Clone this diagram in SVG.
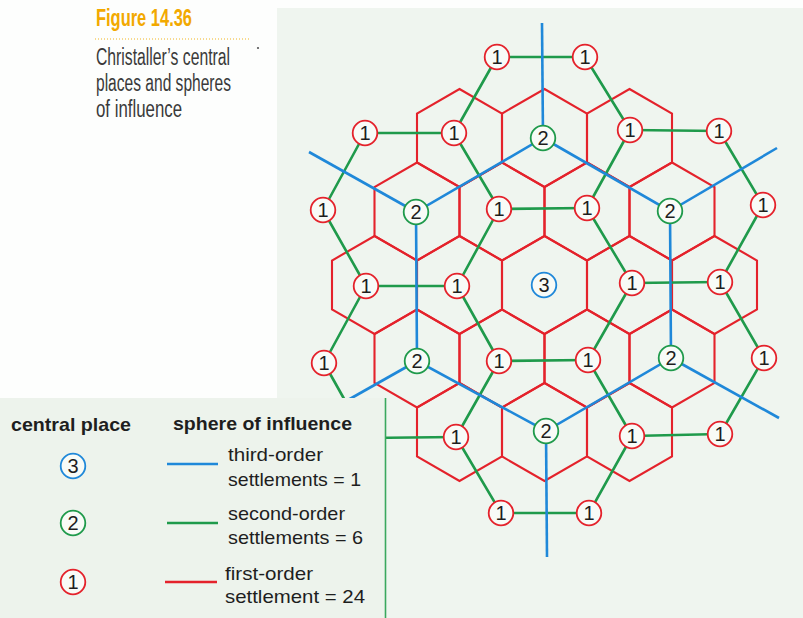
<svg xmlns="http://www.w3.org/2000/svg" xmlns:xlink="http://www.w3.org/1999/xlink" width="803" height="618" viewBox="0 0 803 618">
<style>
  .hex{fill:none;stroke:#e4222b;stroke-width:2.1;stroke-linejoin:miter}
  .g{stroke:#1f9a4b;stroke-width:2.6;fill:none;stroke-linecap:round}
  .b{stroke:#1f88d9;stroke-width:2.6;fill:none;stroke-linecap:butt;stroke-linejoin:miter}
  .c1{fill:#f8fbf7;stroke:#e4222b;stroke-width:1.8}
  .c2{fill:#f8fbf7;stroke:#1f9a4b;stroke-width:1.8}
  .c3{fill:#f8fbf7;stroke:#1f88d9;stroke-width:1.8}
  .n{font-family:"Liberation Sans","Open Sans",sans-serif;font-size:20px;fill:#1e1e1e;text-anchor:middle}
  .ttl{font-family:"Liberation Sans Narrow","Liberation Sans",sans-serif;font-size:23px;font-weight:bold;fill:#f2a900}
  .cap{font-family:"Liberation Sans Narrow","Liberation Sans",sans-serif;font-size:23px;fill:#3a3a3a}
  .lh{font-family:"Liberation Sans","Open Sans",sans-serif;font-size:19px;font-weight:bold;fill:#1e1e1e}
  .lt{font-family:"Liberation Sans","Open Sans",sans-serif;font-size:19px;fill:#1e1e1e}
</style>
<defs>
  <polygon id="hx" class="hex" points="0,-49 42.5,-24.5 42.5,24.5 0,49 -42.5,24.5 -42.5,-24.5"/>
</defs>
<rect x="0" y="0" width="803" height="618" fill="#fdfefd"/>
<rect x="277" y="8" width="526" height="610" fill="#eff5ef"/>

<g id="title">
  <text class="ttl" x="96" y="26" textLength="96" lengthAdjust="spacingAndGlyphs">Figure 14.36</text>
  <line x1="95" y1="39" x2="250" y2="39" stroke="#f0b520" stroke-width="1" stroke-dasharray="1 2"/>
  <text class="cap" x="96" y="65" textLength="134" lengthAdjust="spacingAndGlyphs">Christaller’s central</text>
  <text class="cap" x="96" y="91" textLength="135" lengthAdjust="spacingAndGlyphs">places and spheres</text>
  <text class="cap" x="96" y="117" textLength="86" lengthAdjust="spacingAndGlyphs">of influence</text>
  <circle cx="258" cy="48" r="1.1" fill="#555"/>
</g>

<g id="first-order-spheres">
  <use xlink:href="#hx" x="459.5" y="138"/>
  <use xlink:href="#hx" x="544.5" y="138"/>
  <use xlink:href="#hx" x="629.5" y="138"/>
  <use xlink:href="#hx" x="417" y="211.5"/>
  <use xlink:href="#hx" x="502" y="211.5"/>
  <use xlink:href="#hx" x="587" y="211.5"/>
  <use xlink:href="#hx" x="672" y="211.5"/>
  <use xlink:href="#hx" x="374.5" y="285"/>
  <use xlink:href="#hx" x="459.5" y="285"/>
  <use xlink:href="#hx" x="544.5" y="285"/>
  <use xlink:href="#hx" x="629.5" y="285"/>
  <use xlink:href="#hx" x="714.5" y="285"/>
  <use xlink:href="#hx" x="417" y="358.5"/>
  <use xlink:href="#hx" x="502" y="358.5"/>
  <use xlink:href="#hx" x="587" y="358.5"/>
  <use xlink:href="#hx" x="672" y="358.5"/>
  <use xlink:href="#hx" x="459.5" y="432"/>
  <use xlink:href="#hx" x="544.5" y="432"/>
  <use xlink:href="#hx" x="629.5" y="432"/>
</g>

<g id="connectors">
  <g id="second-order-spheres" class="g">
    <line x1="497" y1="57" x2="585" y2="57"/>
    <line x1="497" y1="57" x2="454" y2="133"/>
    <line x1="585" y1="57" x2="630" y2="130"/>
    <line x1="630" y1="130" x2="587" y2="208"/>
    <line x1="499" y1="209" x2="587" y2="208"/>
    <line x1="454" y1="133" x2="499" y2="209"/>
    <line x1="365" y1="133" x2="454" y2="133"/>
    <line x1="499" y1="209" x2="457" y2="286"/>
    <line x1="366" y1="286" x2="457" y2="286"/>
    <line x1="323" y1="210" x2="366" y2="286"/>
    <line x1="365" y1="133" x2="323" y2="210"/>
    <line x1="630" y1="130" x2="719" y2="131"/>
    <line x1="719" y1="131" x2="763" y2="205"/>
    <line x1="763" y1="205" x2="720" y2="282"/>
    <line x1="632" y1="283" x2="720" y2="282"/>
    <line x1="587" y1="208" x2="632" y2="283"/>
    <line x1="457" y1="286" x2="499" y2="361"/>
    <line x1="499" y1="361" x2="456" y2="437"/>
    <line x1="456" y1="437" x2="366" y2="438"/>
    <line x1="366" y1="438" x2="324" y2="363"/>
    <line x1="366" y1="286" x2="324" y2="363"/>
    <line x1="720" y1="282" x2="764" y2="358"/>
    <line x1="764" y1="358" x2="720" y2="434"/>
    <line x1="632" y1="436" x2="720" y2="434"/>
    <line x1="588" y1="360" x2="632" y2="436"/>
    <line x1="632" y1="283" x2="588" y2="360"/>
    <line x1="499" y1="361" x2="588" y2="360"/>
    <line x1="632" y1="436" x2="589" y2="513"/>
    <line x1="501" y1="513" x2="589" y2="513"/>
    <line x1="456" y1="437" x2="501" y2="513"/>
  </g>
  <g id="third-order-sphere" class="b">
    <polygon points="543,138 670,211 671,358 546,431 417,361 416,212"/>
    <line x1="543" y1="138" x2="542" y2="23"/>
    <line x1="416" y1="212" x2="309" y2="152"/>
    <line x1="670" y1="211" x2="777" y2="148"/>
    <line x1="671" y1="358" x2="779" y2="418"/>
    <line x1="546" y1="431" x2="547" y2="557"/>
    <line x1="417" y1="361" x2="309" y2="422"/>
  </g>
</g>

<g id="places">
  <g id="p01"><circle class="c1" cx="497" cy="57" r="12.3"/><text class="n" x="497" y="64">1</text></g>
  <g id="p02"><circle class="c1" cx="585" cy="57" r="12.3"/><text class="n" x="585" y="64">1</text></g>
  <g id="p03"><circle class="c1" cx="365" cy="133" r="12.3"/><text class="n" x="365" y="140">1</text></g>
  <g id="p04"><circle class="c1" cx="454" cy="133" r="12.3"/><text class="n" x="454" y="140">1</text></g>
  <g id="s01"><circle class="c2" cx="543" cy="138" r="12.3"/><text class="n" x="543" y="145">2</text></g>
  <g id="p05"><circle class="c1" cx="630" cy="130" r="12.3"/><text class="n" x="630" y="137">1</text></g>
  <g id="p06"><circle class="c1" cx="719" cy="131" r="12.3"/><text class="n" x="719" y="138">1</text></g>
  <g id="p07"><circle class="c1" cx="323" cy="210" r="12.3"/><text class="n" x="323" y="217">1</text></g>
  <g id="s02"><circle class="c2" cx="416" cy="212" r="12.3"/><text class="n" x="416" y="219">2</text></g>
  <g id="p08"><circle class="c1" cx="499" cy="209" r="12.3"/><text class="n" x="499" y="216">1</text></g>
  <g id="p09"><circle class="c1" cx="587" cy="208" r="12.3"/><text class="n" x="587" y="215">1</text></g>
  <g id="s03"><circle class="c2" cx="670" cy="211" r="12.3"/><text class="n" x="670" y="218">2</text></g>
  <g id="p10"><circle class="c1" cx="763" cy="205" r="12.3"/><text class="n" x="763" y="212">1</text></g>
  <g id="p11"><circle class="c1" cx="366" cy="286" r="12.3"/><text class="n" x="366" y="293">1</text></g>
  <g id="p12"><circle class="c1" cx="457" cy="286" r="12.3"/><text class="n" x="457" y="293">1</text></g>
  <g id="t01"><circle class="c3" cx="544" cy="285" r="12.3"/><text class="n" x="544" y="292">3</text></g>
  <g id="p13"><circle class="c1" cx="632" cy="283" r="12.3"/><text class="n" x="632" y="290">1</text></g>
  <g id="p14"><circle class="c1" cx="720" cy="282" r="12.3"/><text class="n" x="720" y="289">1</text></g>
  <g id="p15"><circle class="c1" cx="324" cy="363" r="12.3"/><text class="n" x="324" y="370">1</text></g>
  <g id="s04"><circle class="c2" cx="417" cy="361" r="12.3"/><text class="n" x="417" y="368">2</text></g>
  <g id="p16"><circle class="c1" cx="499" cy="361" r="12.3"/><text class="n" x="499" y="368">1</text></g>
  <g id="p17"><circle class="c1" cx="588" cy="360" r="12.3"/><text class="n" x="588" y="367">1</text></g>
  <g id="s05"><circle class="c2" cx="671" cy="358" r="12.3"/><text class="n" x="671" y="365">2</text></g>
  <g id="p18"><circle class="c1" cx="764" cy="358" r="12.3"/><text class="n" x="764" y="365">1</text></g>
  <g id="p19"><circle class="c1" cx="456" cy="437" r="12.3"/><text class="n" x="456" y="444">1</text></g>
  <g id="s06"><circle class="c2" cx="546" cy="431" r="12.3"/><text class="n" x="546" y="438">2</text></g>
  <g id="p20"><circle class="c1" cx="632" cy="436" r="12.3"/><text class="n" x="632" y="443">1</text></g>
  <g id="p21"><circle class="c1" cx="720" cy="434" r="12.3"/><text class="n" x="720" y="441">1</text></g>
  <g id="p22"><circle class="c1" cx="501" cy="513" r="12.3"/><text class="n" x="501" y="520">1</text></g>
  <g id="p23"><circle class="c1" cx="589" cy="513" r="12.3"/><text class="n" x="589" y="520">1</text></g>
</g>

<g id="legend">
  <rect x="0" y="398" width="385" height="220" fill="#edf3ec"/>
  <line x1="385.5" y1="398" x2="385.5" y2="618" stroke="#3aa85e" stroke-width="1.6"/>
  <text class="lh" x="11" y="431" textLength="120" lengthAdjust="spacingAndGlyphs">central place</text>
  <text class="lh" x="173" y="430" textLength="179" lengthAdjust="spacingAndGlyphs">sphere of influence</text>
  <g id="leg3"><circle class="c3" cx="73" cy="466" r="12.3"/><text class="n" x="73" y="473">3</text></g>
  <g id="leg2"><circle class="c2" cx="73" cy="523" r="12.3"/><text class="n" x="73" y="530">2</text></g>
  <g id="leg1"><circle class="c1" cx="73" cy="582" r="12.3"/><text class="n" x="73" y="589">1</text></g>
  <line x1="167" y1="464" x2="218" y2="464" stroke="#1f88d9" stroke-width="2.6"/>
  <line x1="167" y1="523" x2="218" y2="523" stroke="#1f9a4b" stroke-width="2.6"/>
  <line x1="165" y1="582" x2="217" y2="582" stroke="#e4222b" stroke-width="2.6"/>
  <text class="lt" x="228" y="461" textLength="95" lengthAdjust="spacingAndGlyphs">third-order</text>
  <text class="lt" x="228" y="486" textLength="133" lengthAdjust="spacingAndGlyphs">settlements = 1</text>
  <text class="lt" x="228" y="520" textLength="117" lengthAdjust="spacingAndGlyphs">second-order</text>
  <text class="lt" x="228" y="544" textLength="135" lengthAdjust="spacingAndGlyphs">settlements = 6</text>
  <text class="lt" x="225" y="580" textLength="88" lengthAdjust="spacingAndGlyphs">first-order</text>
  <text class="lt" x="225" y="603" textLength="140" lengthAdjust="spacingAndGlyphs">settlement = 24</text>
</g>
</svg>
